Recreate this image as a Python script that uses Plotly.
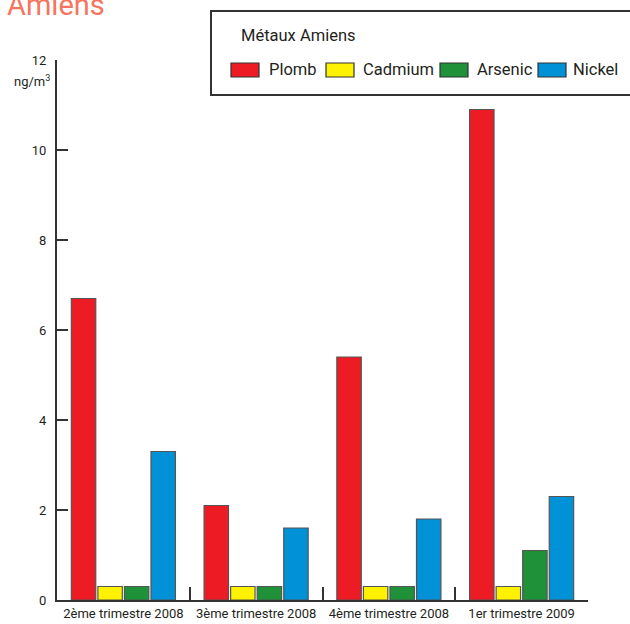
import plotly.graph_objects as go

# Quarterly metal concentrations measured at Amiens (ng/m3)
quarters = ["2ème trimestre 2008", "3ème trimestre 2008", "4ème trimestre 2008", "1er trimestre 2009"]
plomb = [6.7, 2.1, 5.4, 10.9]
cadmium = [0.3, 0.3, 0.3, 0.3]
arsenic = [0.3, 0.3, 0.3, 1.1]
nickel = [3.3, 1.6, 1.8, 2.3]

series = [
    ("Plomb", plomb, "#ED1C24"),
    ("Cadmium", cadmium, "#FFF200"),
    ("Arsenic", arsenic, "#1E9139"),
    ("Nickel", nickel, "#0091D6"),
]

FONT = "Roboto, 'Noto Sans', sans-serif"
W, H = 630, 624
L, R, T, B = 57, 42, 60, 24
PW, PH = W - L - R, H - T - B

fig = go.Figure()
for name, vals, color in series:
    fig.add_trace(go.Bar(
        x=quarters, y=vals, name=name,
        marker=dict(color=color, line=dict(color="#555555", width=1.2)),
        showlegend=False,
    ))


def px_x(p):
    return (p - L) / PW


def px_y(p):
    return 1 + (T - p) / PH


shapes = []
annotations = []

# Legend box, drawn in paper space
shapes.append(dict(type="rect", xref="paper", yref="paper",
                   x0=px_x(211), x1=px_x(640), y0=px_y(95), y1=px_y(11),
                   line=dict(color="#333333", width=2), fillcolor="white", layer="above"))
annotations.append(dict(text="Métaux Amiens", xref="paper", yref="paper",
                        x=px_x(239), y=px_y(36), xanchor="left", yanchor="middle",
                        showarrow=False, font=dict(family=FONT, size=16.5, color="#231F20")))
legend_pos = [(231, 267), (326, 361), (440, 475), (538, 571)]
for (name, _, color), (sx, tx) in zip(series, legend_pos):
    shapes.append(dict(type="rect", xref="paper", yref="paper",
                       x0=px_x(sx), x1=px_x(sx + 28), y0=px_y(77), y1=px_y(63),
                       line=dict(color="#333333", width=1.2), fillcolor=color, layer="above"))
    annotations.append(dict(text=name, xref="paper", yref="paper",
                            x=px_x(tx), y=px_y(70), xanchor="left", yanchor="middle",
                            showarrow=False, font=dict(family=FONT, size=16.5, color="#231F20")))

# Station name, partly clipped by the top edge
annotations.append(dict(text="Amiens", xref="paper", yref="paper",
                        x=px_x(5), y=px_y(24), xanchor="left", yanchor="bottom",
                        showarrow=False, font=dict(family=FONT, size=29, color="#F47560")))

# Unit label under the top tick
annotations.append(dict(text="ng/m<sup>3</sup>", xref="paper", yref="paper",
                        x=px_x(52), y=px_y(81), xanchor="right", yanchor="middle",
                        showarrow=False, font=dict(family=FONT, size=13, color="#231F20")))

fig.update_layout(
    width=W, height=H,
    margin=dict(l=L, r=R, t=T, b=B, pad=0, autoexpand=False),
    paper_bgcolor="white", plot_bgcolor="white",
    barmode="group", bargap=0.2, bargroupgap=0.08,
    shapes=shapes, annotations=annotations,
    font=dict(family=FONT, size=13, color="#231F20"),
)
fig.update_xaxes(
    type="category", range=[-0.5, 3.5], automargin=False,
    showline=True, linecolor="#333333", linewidth=2,
    ticks="inside", tickson="boundaries", ticklen=13, tickwidth=2, tickcolor="#333333",
    showgrid=False, tickfont=dict(family=FONT, size=13, color="#231F20"),
)
fig.update_yaxes(
    range=[0, 12], tickvals=[0, 2, 4, 6, 8, 10, 12], automargin=False,
    showline=True, linecolor="#333333", linewidth=2,
    ticks="inside", ticklen=11, tickwidth=2, tickcolor="#333333",
    showgrid=False, zeroline=False, ticklabelstandoff=6,
    tickfont=dict(family=FONT, size=13, color="#231F20"),
)

fig.write_html("out.html")
